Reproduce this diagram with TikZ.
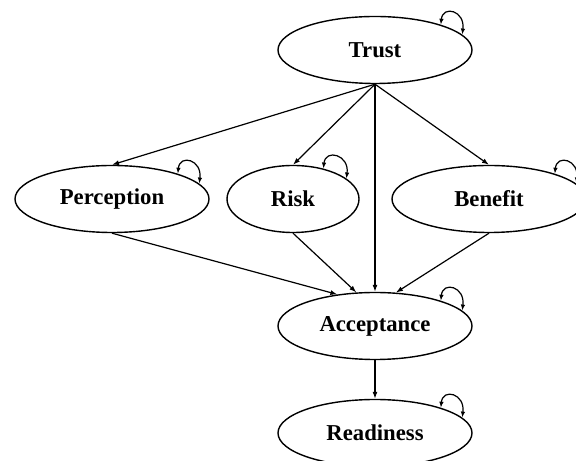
\documentclass[tikz,border=0pt]{standalone}
\usepackage{fontspec}
\setmainfont{Liberation Serif}
\usepackage{tikz}
\usetikzlibrary{calc}
\usetikzlibrary{arrows.meta}
\usetikzlibrary{shapes.geometric}
\begin{document}
\begin{tikzpicture}[x=1bp, y=1bp,
    construct/.style={ellipse, draw, line width=1.4bp, inner sep=0pt, minimum width=194bp, minimum height=67bp,
                      font=\fontsize{22.8}{27}\selectfont\bfseries},
    smallconstruct/.style={construct, minimum width=132bp},
    path/.style={-{Latex[length=7bp, width=5bp]}, line width=1.2bp},
    selfloop/.style={{Latex[length=6bp, width=4.5bp]}-{Latex[length=6bp, width=4.5bp]}, line width=1.2bp}]
            \useasboundingbox                                  (0.00, 0.00) rectangle (576.00, 461.00);
            \node[construct]      (trust)       at (375.00, 411.00) {Trust};
            \node[construct]      (perception)  at (112.00, 262.00) {Perception};
            \node[smallconstruct] (risk)        at (293.00, 262.00) {Risk};
            \node[construct]      (benefit)     at (489.00, 262.00) {Benefit};
            \node[construct]      (acceptance)  at (375.00, 135.00) {Acceptance};
            \node[construct]      (readiness)   at (375.00,  28.00) {Readiness};
            \draw[path] (trust.south)      -- (perception.north);
            \draw[path] (trust.south)      -- (risk.north);
            \draw[path] (trust.south)      -- (benefit.north);
            \draw[path] (trust.south)      -- (acceptance.north);
            \draw[path] (perception.south) -- (acceptance.140);
            \draw[path] (risk.south)       -- (acceptance.119);
            \draw[path] (benefit.south)    -- (acceptance.58);
            \draw[path] (acceptance.south) -- (readiness.north);
            \foreach \n in {trust, perception, benefit, acceptance, readiness}
                \draw[selfloop] (\n.21) .. controls +(2bp, 20bp) and +(3bp, 24bp) .. (\n.10.5);
            \draw[selfloop] (risk.45) .. controls +(2bp, 20bp) and +(3bp, 24bp) .. (risk.21);
\end{tikzpicture}
\end{document}
